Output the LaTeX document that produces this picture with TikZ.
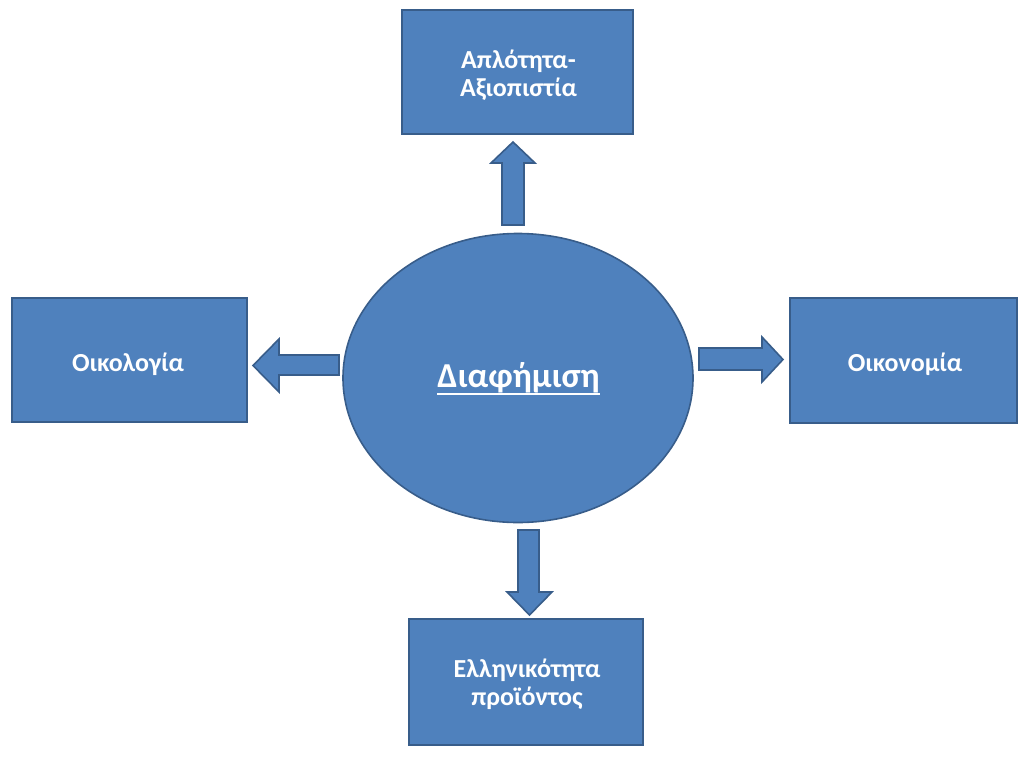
\documentclass[tikz,border=0pt]{standalone}
\usepackage{fontspec}
\setmainfont{Carlito}
\usetikzlibrary{shapes.geometric}
\definecolor{boxfill}{HTML}{4F81BD}
\definecolor{boxline}{HTML}{385D8A}
\tikzset{
  topic/.style={draw=boxline, fill=boxfill, line width=1.6pt, rectangle,
    text=white, font=\fontsize{26}{29}\selectfont\bfseries, align=center,
    inner sep=0pt, text depth=0pt},
  hub/.style={draw=boxline, fill=boxfill, line width=1.6pt, ellipse,
    inner sep=0pt},
  blockarrow/.style={draw=boxline, fill=boxfill, line width=1.6pt, line join=miter}
}
\begin{document}
\begin{tikzpicture}[x=1pt, y=-1pt]
  \useasboundingbox (0,0) rectangle (1018,756);
  \fill[white] (0,0) rectangle (1018,756);

  % central ellipse with its underlined title
  \node[hub, minimum width=350pt, minimum height=289pt] (hub) at (518,378) {};
  \node[text=white, font=\fontsize{35}{40}\selectfont\bfseries, inner sep=0pt,
        anchor=base] (hubtext) at (518.5,387) {Διαφήμιση};
  \draw[white, line width=1.8pt] ([yshift=-7pt]hubtext.base west) -- ([yshift=-7pt]hubtext.base east);

  % surrounding topics
  \node[topic, minimum width=231pt, minimum height=124pt] (top) at (517.5,72) {};
  \node[text=white, font=\fontsize{26}{28}\selectfont\bfseries, align=center, inner sep=0pt]
        (toptext) at (518.5,75) {Απλότητα-\\Αξιοπιστία};
  \node[topic, minimum width=235pt, minimum height=124pt] (left) at (129.5,360) {};
  \node[text=white, font=\fontsize{26}{28}\selectfont\bfseries, inner sep=0pt, anchor=base]
        (lefttext) at (128,371) {Οικολογία};
  \node[topic, minimum width=227pt, minimum height=125pt] (right) at (903.5,360.5) {};
  \node[text=white, font=\fontsize{26}{28}\selectfont\bfseries, inner sep=0pt, anchor=base]
        (righttext) at (905,371) {Οικονομία};
  \node[topic, minimum width=234pt, minimum height=126pt] (bottom) at (526,682) {};
  \node[text=white, font=\fontsize{26}{28}\selectfont\bfseries, align=center, inner sep=0pt]
        (bottomtext) at (527,684) {Ελληνικότητα\\προϊόντος};

  % block arrows from the hub to each topic
  \draw[blockarrow] (502,225) -- (502,163) -- (491,163) -- (513,142) -- (535,163) -- (524,163) -- (524,225) -- cycle;
  \draw[blockarrow] (339,355) -- (279,355) -- (279,339) -- (253,365.5) -- (279,392) -- (279,375) -- (339,375) -- cycle;
  \draw[blockarrow] (699,348) -- (762,348) -- (762,337) -- (783,359.5) -- (762,382) -- (762,370) -- (699,370) -- cycle;
  \draw[blockarrow] (518,530) -- (539,530) -- (539,592) -- (552,592) -- (529.5,615) -- (507,592) -- (518,592) -- cycle;
\end{tikzpicture}
\end{document}
